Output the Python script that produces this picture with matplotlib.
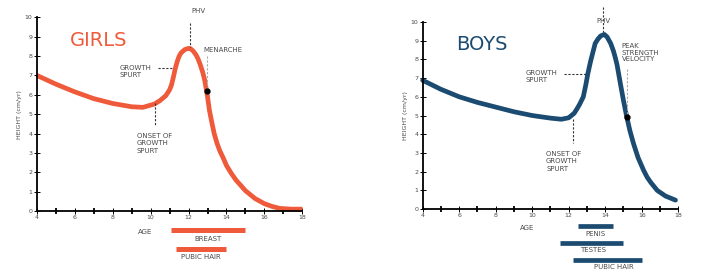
import numpy as np
import matplotlib
matplotlib.use("Agg")
import matplotlib.pyplot as plt
from matplotlib.ticker import MultipleLocator

GIRLS_COLOR = "#ef5a3a"
BOYS_COLOR = "#1c4b72"
TEXT_COLOR = "#4a4a4a"

# height velocity curves
girls_age = [4, 5, 6, 7, 8, 9, 9.6, 10.2, 10.5, 10.8, 11.0, 11.1, 11.2, 11.3, 11.4, 11.5, 11.6,
             11.8, 12.0, 12.1, 12.25, 12.4, 12.5, 12.6, 12.75, 12.85, 12.95, 13.0, 13.1, 13.2,
             13.35, 13.5, 13.65, 13.8, 14.0, 14.25, 14.5, 15.0, 15.5, 16.0, 16.4, 16.8, 17.4, 18]
girls_vel = [7.0, 6.55, 6.15, 5.8, 5.55, 5.38, 5.35, 5.52, 5.7, 5.95, 6.25, 6.5, 6.9, 7.35, 7.7, 7.98, 8.15,
             8.33, 8.39, 8.38, 8.25, 8.05, 7.85, 7.6, 7.15, 6.75, 6.2, 5.9, 5.2, 4.7,
             4.0, 3.5, 3.1, 2.8, 2.35, 1.95, 1.6, 1.05, 0.65, 0.38, 0.24, 0.14, 0.1, 0.1]

boys_age = [4, 5, 6, 7, 8, 9, 10, 11, 11.6, 12.0, 12.3, 12.45, 12.6, 12.8, 12.95, 13.05, 13.2,
            13.45, 13.6, 13.75, 13.95, 14.1, 14.3, 14.45, 14.55, 14.65, 14.85, 15.0, 15.18,
            15.35, 15.55, 15.8, 16.1, 16.3, 16.5, 16.85, 17.3, 17.85]
boys_vel = [6.88, 6.4, 6.0, 5.7, 5.45, 5.2, 5.0, 4.86, 4.8, 4.88, 5.12, 5.35, 5.6, 6.0, 6.7, 7.24, 7.9,
            8.85, 9.08, 9.25, 9.33, 9.2, 8.85, 8.45, 8.1, 7.7, 6.6, 5.8, 4.93,
            4.2, 3.5, 2.75, 2.08, 1.7, 1.42, 1.0, 0.7, 0.48]

girls_bars = ["BREAST", "PUBIC HAIR"]
girls_bar_start = [11.1, 11.35]
girls_bar_end = [14.95, 13.95]

boys_bars = ["PENIS", "TESTES", "PUBIC HAIR"]
boys_bar_start = [12.5, 11.5, 12.25]
boys_bar_end = [14.45, 14.95, 16.0]

x_ticks = [4, 6, 8, 10, 12, 14, 16, 18]
y_ticks = list(range(0, 11))


def setup_axes(ax):
    ax.set_xlim(4, 18)
    ax.set_ylim(0, 10)
    for s in ["top", "right"]:
        ax.spines[s].set_visible(False)
    for s in ["left", "bottom"]:
        ax.spines[s].set_linewidth(1.3)
    ax.xaxis.set_major_locator(MultipleLocator(2))
    ax.xaxis.set_minor_locator(MultipleLocator(1))
    ax.yaxis.set_major_locator(MultipleLocator(1))
    ax.tick_params(which="major", direction="inout", length=4, width=0.7,
                   labelsize=4.5, labelcolor=TEXT_COLOR, pad=1)
    ax.tick_params(which="minor", direction="inout", length=4, width=1.3)
    ax.set_xticks(x_ticks)
    ax.set_yticks(y_ticks)
    ax.set_ylabel("HEIGHT (cm/yr)", fontsize=4.5, color=TEXT_COLOR, labelpad=2)
    ax.patch.set_alpha(0)


fig = plt.figure(figsize=(7.2, 2.77), dpi=100)
fs = 5

# ---------------- girls
ax = fig.add_axes([0.051, 0.238, 0.369, 0.70])
setup_axes(ax)
ax.plot(girls_age, girls_vel, color=GIRLS_COLOR, lw=3.4, solid_capstyle="butt",
        solid_joinstyle="round", clip_on=False)
ax.plot(12.95, 6.19, "o", color="black", ms=3.5, zorder=5)
ax.text(5.75, 8.8, "GIRLS", color=GIRLS_COLOR, fontsize=14, va="center", ha="left")
ax.text(12.5, 10.3, "PHV", fontsize=fs, color=TEXT_COLOR, ha="center", va="center")
ax.plot([12.08, 12.08], [9.7, 8.45], ls=(0, (2, 1.5)), color="#333333", lw=0.8, clip_on=False)
ax.text(12.78, 8.3, "MENARCHE", fontsize=fs, color=TEXT_COLOR, ha="left", va="center")
ax.plot([12.95, 12.95], [8.0, 6.2], ls=(0, (2, 1.5)), color="#aaaaaa", lw=0.8)
ax.text(8.36, 7.2, "GROWTH\nSPURT", fontsize=fs, color=TEXT_COLOR, ha="left", va="center",
        linespacing=1.3)
ax.plot([10.4, 11.17], [7.39, 7.39], ls=(0, (2, 1.5)), color="#333333", lw=0.8)
ax.text(9.27, 3.5, "ONSET OF\nGROWTH\nSPURT", fontsize=fs, color=TEXT_COLOR, ha="left",
        va="center", linespacing=1.3)
ax.plot([10.24, 10.24], [5.57, 4.43], ls=(0, (2, 1.5)), color="#333333", lw=0.8)
ax.text(9.71, -1.1, "AGE", fontsize=fs, color=TEXT_COLOR, ha="center", va="center")
bar_y = [-0.98, -1.97]
lab_y = [-1.44, -2.39]
for name, a, b, yb, yl in zip(girls_bars, girls_bar_start, girls_bar_end, bar_y, lab_y):
    ax.plot([a, b], [yb, yb], color=GIRLS_COLOR, lw=3.6, solid_capstyle="butt", clip_on=False)
    ax.text((a + b) / 2, yl, name, fontsize=fs, color=TEXT_COLOR, ha="center", va="center")

# ---------------- boys
ax = fig.add_axes([0.587, 0.245, 0.355, 0.676])
setup_axes(ax)
ax.plot(boys_age, boys_vel, color=BOYS_COLOR, lw=3.4, solid_capstyle="round",
        solid_joinstyle="round", clip_on=False)
ax.plot(15.18, 4.93, "o", color="black", ms=3.5, zorder=5)
ax.text(5.86, 8.8, "BOYS", color=BOYS_COLOR, fontsize=14, va="center", ha="left")
ax.text(13.9, 10.05, "PHV", fontsize=fs, color=TEXT_COLOR, ha="center", va="center")
ax.plot([13.87, 13.87], [10.77, 9.47], ls=(0, (2, 1.5)), color="#333333", lw=0.8, clip_on=False)
ax.text(14.91, 8.35, "PEAK\nSTRENGTH\nVELOCITY", fontsize=fs, color=TEXT_COLOR, ha="left",
        va="center", linespacing=1.1)
ax.plot([15.18, 15.18], [7.5, 4.93], ls=(0, (2, 1.5)), color="#aaaaaa", lw=0.8)
ax.text(9.66, 7.07, "GROWTH\nSPURT", fontsize=fs, color=TEXT_COLOR, ha="left", va="center",
        linespacing=1.3)
ax.plot([11.75, 13.05], [7.24, 7.24], ls=(0, (2, 1.5)), color="#333333", lw=0.8)
ax.text(10.76, 2.56, "ONSET OF\nGROWTH\nSPURT", fontsize=fs, color=TEXT_COLOR, ha="left",
        va="center", linespacing=1.3)
ax.plot([12.22, 12.22], [4.82, 3.52], ls=(0, (2, 1.5)), color="#333333", lw=0.8)
ax.text(9.7, -1.0, "AGE", fontsize=fs, color=TEXT_COLOR, ha="center", va="center")
bar_y = [-0.91, -1.83, -2.69]
lab_y = [-1.33, -2.19, -3.08]
lab_x = [13.45, 13.32, 14.45]
for name, a, b, yb, yl, xl in zip(boys_bars, boys_bar_start, boys_bar_end, bar_y, lab_y, lab_x):
    ax.plot([a, b], [yb, yb], color=BOYS_COLOR, lw=3.4, solid_capstyle="butt", clip_on=False)
    ax.text(xl, yl, name, fontsize=fs, color=TEXT_COLOR, ha="center", va="center")

fig.savefig("out.png", dpi=100)
